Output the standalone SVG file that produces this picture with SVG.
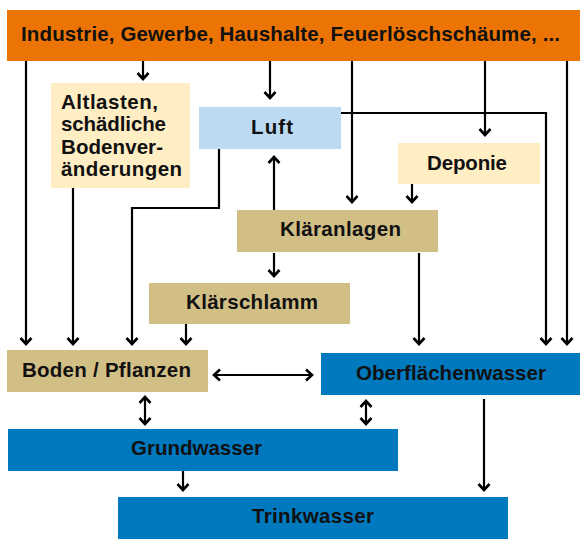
<svg xmlns="http://www.w3.org/2000/svg" width="588" height="547" viewBox="0 0 588 547">
<style>
text{font-family:"Liberation Sans",Arial,sans-serif;font-weight:bold;fill:#111;font-size:20.5px}
.c{text-anchor:middle}
.ln{fill:none;stroke:#000;stroke-width:2.2}
.orange{fill:#EC7404}
.yel{fill:#FFEEC3}
.lb{fill:#BCDAF2}
.bei{fill:#D2BF86}
.blue{fill:#0079BF}
</style>
<defs>
<marker id="ah" markerUnits="userSpaceOnUse" markerWidth="16" markerHeight="16" viewBox="-8 -8 16 16" refX="0" refY="0" orient="auto-start-reverse">
<path d="M-6,-5.5 L0,0 L-6,5.5" fill="none" stroke="#000" stroke-width="2.6"/>
</marker>
</defs>
<rect width="588" height="547" fill="#fff"/>
<g id="connectors" class="conn">
<path class="ln" d="M26,61 V344" marker-end="url(#ah)"/>
<path class="ln" d="M143,61 V79" marker-end="url(#ah)"/>
<path class="ln" d="M270,61 V98" marker-end="url(#ah)"/>
<path class="ln" d="M352,61 V202" marker-end="url(#ah)"/>
<path class="ln" d="M485,61 V135" marker-end="url(#ah)"/>
<path class="ln" d="M567,61 V344" marker-end="url(#ah)"/>
<path class="ln" d="M341,113 H546 V344" marker-end="url(#ah)"/>
<path class="ln" d="M412,184 V202" marker-end="url(#ah)"/>
<path class="ln" d="M219,149 V208 H132 V344" marker-end="url(#ah)"/>
<path class="ln" d="M274,210 V157" marker-end="url(#ah)"/>
<path class="ln" d="M73,188 V344" marker-end="url(#ah)"/>
<path class="ln" d="M274,253 V276" marker-end="url(#ah)"/>
<path class="ln" d="M186,324 V344" marker-end="url(#ah)"/>
<path class="ln" d="M419,253 V344" marker-end="url(#ah)"/>
<path class="ln" d="M214,375 H312" marker-start="url(#ah)" marker-end="url(#ah)"/>
<path class="ln" d="M145,397 V424" marker-start="url(#ah)" marker-end="url(#ah)"/>
<path class="ln" d="M366,401 V424" marker-start="url(#ah)" marker-end="url(#ah)"/>
<path class="ln" d="M183,471 V490" marker-end="url(#ah)"/>
<path class="ln" d="M484,399 V490" marker-end="url(#ah)"/>
</g>
<g id="quellen">
<rect class="orange" x="7" y="10" width="573" height="51"/>
<text x="21" y="41" textLength="539">Industrie, Gewerbe, Haushalte, Feuerlöschschäume, ...</text>
</g>
<g id="altlasten">
<rect class="yel" x="51" y="83" width="139" height="105"/>
<text x="61" y="109" textLength="97">Altlasten,</text>
<text x="61" y="131" textLength="105">schädliche</text>
<text x="61" y="154" textLength="102">Bodenver-</text>
<text x="61" y="176" textLength="121">änderungen</text>
</g>
<g id="luft">
<rect class="lb" x="199" y="107" width="142" height="42"/>
<text class="c" x="272" y="134" textLength="42">Luft</text>
</g>
<g id="deponie">
<rect class="yel" x="398" y="143" width="142" height="41"/>
<text class="c" x="467" y="170" textLength="80">Deponie</text>
</g>
<g id="klaeranlagen">
<rect class="bei" x="237" y="210" width="201" height="42"/>
<text class="c" x="340.5" y="236" textLength="121">Kläranlagen</text>
</g>
<g id="klaerschlamm">
<rect class="bei" x="149" y="283" width="201" height="41"/>
<text class="c" x="252" y="309" textLength="132">Klärschlamm</text>
</g>
<g id="boden">
<rect class="bei" x="7" y="350" width="201" height="42"/>
<text class="c" x="106.5" y="377" textLength="169">Boden / Pflanzen</text>
</g>
<g id="oberflaechenwasser">
<rect class="blue" x="321" y="353" width="259" height="42"/>
<text class="c" x="451" y="380" textLength="190">Oberflächenwasser</text>
</g>
<g id="grundwasser">
<rect class="blue" x="8" y="429" width="390" height="42"/>
<text class="c" x="196.5" y="455" textLength="131">Grundwasser</text>
</g>
<g id="trinkwasser">
<rect class="blue" x="118" y="497" width="390" height="42"/>
<text class="c" x="313" y="523" textLength="122">Trinkwasser</text>
</g>
</svg>
